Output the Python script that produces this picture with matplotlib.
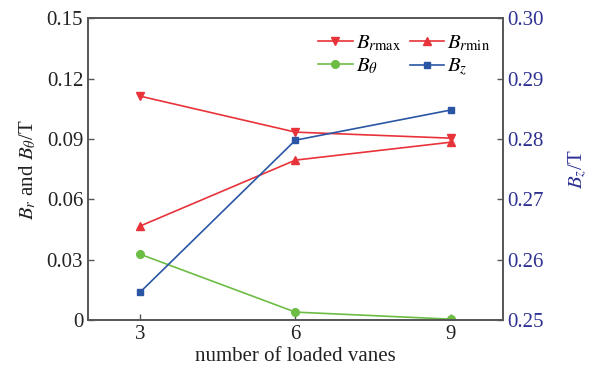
import matplotlib
matplotlib.use("Agg")
import matplotlib.pyplot as plt

plt.rcParams['font.family'] = ['Liberation Serif', 'DejaVu Serif']
plt.rcParams['mathtext.fontset'] = 'stix'

vanes = [3, 6, 9]
br_max = [0.1113, 0.0934, 0.0904]
br_min = [0.0467, 0.0795, 0.0884]
b_theta = [0.0328, 0.0040, 0.0005]
b_z = [0.2546, 0.2798, 0.2848]

left_ticks = [0, 0.03, 0.06, 0.09, 0.12, 0.15]
left_labels = ['0', '0.03', '0.06', '0.09', '0.12', '0.15']
right_ticks = [0.25, 0.26, 0.27, 0.28, 0.29, 0.30]
right_labels = ['0.25', '0.26', '0.27', '0.28', '0.29', '0.30']

red = '#e8333a'
green = '#6dbd45'
blue = '#2a56a5'
navy = '#2e3192'
spine = '#555555'
fs = 15

fig = plt.figure(figsize=(5.95, 3.71), dpi=100)
ax = fig.add_axes([0.148, 0.137, 0.697, 0.814])
ax2 = ax.twinx()

l1, = ax.plot(vanes, br_max, color=red, marker='v', ms=5.5, lw=1.2)
l2, = ax.plot(vanes, br_min, color=red, marker='^', ms=5.5, lw=1.2)
l3, = ax.plot(vanes, b_theta, color=green, marker='o', ms=5.5, lw=1.2)
l4, = ax2.plot(vanes, b_z, color=blue, marker='s', ms=5, lw=1.2)

ax.set_xlim(2, 10)
ax.set_ylim(0, 0.15)
ax2.set_ylim(0.25, 0.30)
ax.set_xticks(vanes)
ax.set_xticklabels([str(v) for v in vanes])
ax.set_yticks(left_ticks)
ax.set_yticklabels(left_labels)
ax2.set_yticks(right_ticks)
ax2.set_yticklabels(right_labels, color=navy)

for a in (ax, ax2):
    for s in a.spines.values():
        s.set_color(spine)
        s.set_linewidth(1.2)
ax.tick_params(direction='in', length=4, width=1, colors=spine, labelsize=fs, labelcolor='#222222')
ax2.tick_params(direction='in', length=4, width=1, colors=spine, labelsize=fs, labelcolor=navy)

ax.set_xlabel('number of loaded vanes', fontsize=fs, color='#222222', labelpad=2)
ax.set_ylabel(r'$B_r$ and $B_\theta$/T', fontsize=fs, color='#222222', labelpad=6)
ax2.set_ylabel(r'$B_z$/T', fontsize=fs, color=navy, labelpad=16)

leg = ax.legend([l1, l3, l2, l4],
                [r'$B_{r\mathrm{max}}$', r'$B_\theta$', r'$B_{r\mathrm{min}}$', r'$B_z$'],
                ncol=2, loc='upper left', bbox_to_anchor=(0.535, 0.975), frameon=False,
                fontsize=fs, handlelength=1.65, handletextpad=0.15, columnspacing=0.4,
                labelspacing=0.15, borderaxespad=0.0)

fig.savefig('out.png', dpi=100)
